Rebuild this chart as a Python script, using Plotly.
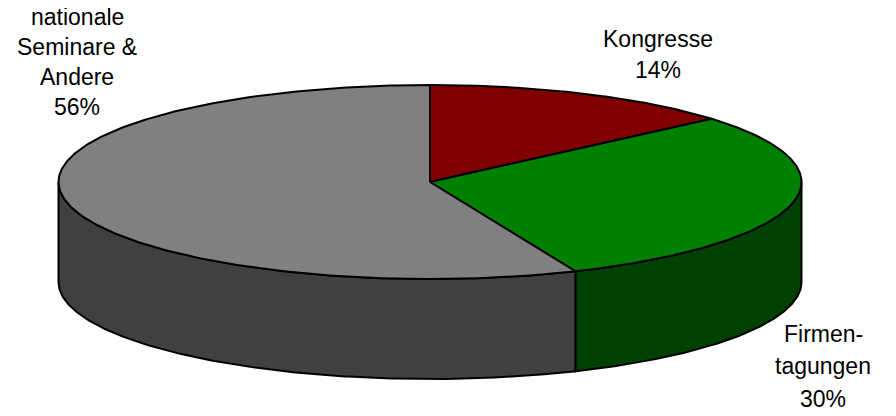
import numpy as np
import plotly.graph_objects as go

# ---- data ----
categories = ["Kongresse", "Firmentagungen", "nationale Seminare & Andere"]
values = [13.7, 29.9, 56.4]
label_lines = [["Kongresse"], ["Firmen-", "tagungen"], ["nationale", "Seminare &", "Andere"]]

# ---- style / layout ----
top_colors = ["#800000", "#008000", "#808080"]
side_colors = ["#400000", "#004000", "#404040"]
# (centre x, baseline of first line, line spacing) per label
label_pos = [(658, 47, 31), (823, 342, 32.5), (77, 25, 30)]

W, H = 896, 416
OFF = 8                    # page body margin
cx, cy = 430, 182          # centre of top ellipse (pixels)
a, b = 371.5, 97           # semi-axes of top ellipse
depth = 100                # thickness of pie
FS = 23


def pt(theta_deg, dy=0.0):
    t = np.radians(theta_deg)
    return cx + a * np.sin(t), cy - b * np.cos(t) + dy


fig = go.Figure()

total = float(sum(values))
bounds = np.concatenate([[0.0], np.cumsum(values) / total * 360.0])

# sides first (only front half, angles 90..270 visible)
for i in range(len(values)):
    s, e = max(bounds[i], 90.0), min(bounds[i + 1], 270.0)
    if e <= s:
        continue
    th = np.linspace(s, e, 200)
    xt, yt = pt(th)
    xb, yb = pt(th[::-1], depth)
    xs = np.concatenate([xt, xb, xt[:1]])
    ys = np.concatenate([yt, yb, yt[:1]])
    fig.add_trace(go.Scatter(x=xs, y=ys, mode="lines", fill="toself",
                             fillcolor=side_colors[i],
                             line=dict(color="black", width=2),
                             hoverinfo="skip", showlegend=False))

# top slices
for i in range(len(values)):
    th = np.linspace(bounds[i], bounds[i + 1], 300)
    xt, yt = pt(th)
    xs = np.concatenate([[cx], xt, [cx]])
    ys = np.concatenate([[cy], yt, [cy]])
    fig.add_trace(go.Scatter(x=xs, y=ys, mode="lines", fill="toself",
                             fillcolor=top_colors[i],
                             line=dict(color="black", width=2),
                             hoverinfo="skip", showlegend=False,
                             name=categories[i]))

for i in range(len(values)):
    pct = round(values[i] / total * 100)
    lines = label_lines[i] + [f"{pct}%"]
    x, y0, sp = label_pos[i]
    for k, ln in enumerate(lines):
        base = y0 + k * sp
        fig.add_annotation(x=x, y=base - 0.36 * FS, text=ln, showarrow=False,
                           xanchor="center", yanchor="middle", align="center",
                           font=dict(family="Liberation Sans, Arial, sans-serif",
                                     size=FS, color="black"))

fig.update_layout(
    width=W - OFF, height=H - OFF,
    margin=dict(l=0, r=0, t=0, b=0),
    paper_bgcolor="white", plot_bgcolor="white",
    xaxis=dict(range=[OFF, W], visible=False, fixedrange=True),
    yaxis=dict(range=[H, OFF], visible=False, fixedrange=True),
)

fig.write_html("out.html")
